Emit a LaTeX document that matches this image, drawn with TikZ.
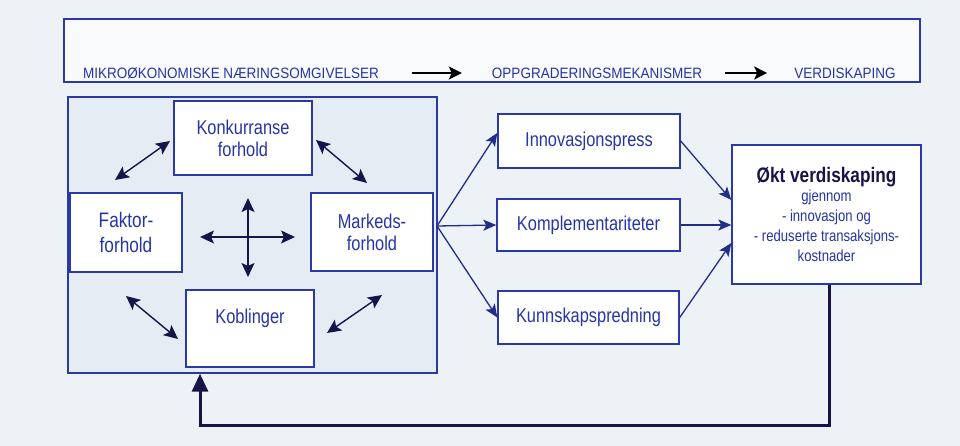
\documentclass[tikz,border=0pt]{standalone}
\usepackage{fontspec}
\setmainfont{Liberation Sans}[FakeStretch=0.82]
\newfontfamily\topfont{Liberation Sans}[FakeStretch=0.9]
\usetikzlibrary{arrows.meta}
\definecolor{bline}{HTML}{2A38A8}
\definecolor{btext}{HTML}{2535A5}
\definecolor{bg}{HTML}{EDF2F7}
\definecolor{inner}{HTML}{E6ECF3}
\definecolor{dark}{HTML}{15154A}
\begin{document}
\begin{tikzpicture}[x=1pt,y=-1pt,
  frame/.style={draw=bline, line width=1.4pt, inner sep=0pt},
  box/.style={draw=bline, line width=1.4pt, fill=white, text=btext, align=center, inner sep=0pt, font=\fontsize{20}{22}\selectfont},
  toptxt/.style={text=btext, inner sep=0pt, font=\topfont\fontsize{15}{18}\selectfont},
  dbl/.style={{Stealth[length=14pt,width=13pt,inset=3pt]}-{Stealth[length=14pt,width=13pt,inset=3pt]}, line width=1.4pt, draw=dark},
  fan/.style={-{Stealth[length=13pt,width=11pt,inset=3pt]}, line width=1.3pt, draw=bline!80!black},
  toparr/.style={-{Stealth[length=13pt,width=13pt,inset=3pt]}, line width=1.6pt, draw=black},
  fb/.style={-{Triangle[length=18pt,width=16pt]}, line width=3pt, draw=dark}]
\fill[bg] (0,0) rectangle (960,446);
\useasboundingbox (0,0) rectangle (960,446);
% top banner
\node[frame, fill=white!60!bg, minimum width=856pt, minimum height=63pt] (top) at (492,50.5) {};
\node[toptxt] (t1) at (231,73) {MIKROØKONOMISKE NÆRINGSOMGIVELSER};
\node[toptxt] (t2) at (597,73) {OPPGRADERINGSMEKANISMER};
\node[toptxt] (t3) at (845,73) {VERDISKAPING};
\draw[toparr] ([xshift=33pt]t1.east) -- ([xshift=-30pt]t2.west);
\draw[toparr] ([xshift=23pt]t2.east) -- ([xshift=-27pt]t3.west);
% left big box
\node[frame, fill=inner, minimum width=369pt, minimum height=276pt] (big) at (252.5,235) {};
\node[box, minimum width=138pt, minimum height=74pt] (konk) at (243,138) {Konkurranse\\forhold};
\node[box, minimum width=112pt, minimum height=79pt, font=\fontsize{21}{25}\selectfont] (fakt) at (126,232.5) {Faktor-\\forhold};
\node[box, minimum width=122pt, minimum height=78pt] (mark) at (372,232) {Markeds-\\forhold};
\node[box, minimum width=128pt, minimum height=77pt] (kobl) at (250,328.5) {};
\node[text=btext, inner sep=0pt, font=\fontsize{20}{22}\selectfont] (koblt) at ([yshift=10pt]kobl.center) {Koblinger};
% cross
\coordinate (cl) at (200,237);
\coordinate (cr) at (295,237);
\coordinate (ct) at (248,198);
\coordinate (cb) at (248,277);
\draw[dbl] (cl) -- (cr);
\draw[dbl] (ct) -- (cb);
% diagonal arrows
\coordinate (d1a) at (115,180); \coordinate (d1b) at (170,141);
\coordinate (d2a) at (316,140); \coordinate (d2b) at (367,183);
\coordinate (d3a) at (126,296); \coordinate (d3b) at (178,339);
\coordinate (d4a) at (327,333); \coordinate (d4b) at (382,295);
\draw[dbl] (d1a) -- (d1b);
\draw[dbl] (d2a) -- (d2b);
\draw[dbl] (d3a) -- (d3b);
\draw[dbl] (d4a) -- (d4b);
% mechanisms
\node[box, minimum width=182pt, minimum height=54pt] (innov) at (589,141) {Innovasjonspress};
\node[box, minimum width=183pt, minimum height=52pt] (kompl) at (588.5,225) {Komplementariteter};
\node[box, minimum width=181pt, minimum height=53pt] (kunn) at (588.5,317.5) {Kunnskapspredning};
\coordinate (fanpt) at (437,226);
\draw[fan] (fanpt) -- ([yshift=8pt]innov.west);
\draw[fan] (fanpt) -- (kompl.west);
\draw[fan] (fanpt) -- (kunn.west);
% result
\node[box, minimum width=189pt, minimum height=139pt, font=\fontsize{16}{20}\selectfont] (okt) at (826.5,214.5)
  {{\fontsize{21}{24}\selectfont\bfseries\color{dark}Økt verdiskaping}\\[-1pt]gjennom\\- innovasjon og\\- reduserte transaksjons-\\kostnader};
\draw[fan] (innov.east) -- ([yshift=14.5pt]okt.west);
\draw[fan] (kompl.east) -- ([yshift=-10.5pt]okt.west);
\draw[fan] (kunn.east) -- ([yshift=-28.5pt]okt.west);
% feedback
\draw[fb] ([xshift=2.5pt]okt.south) -- ++(0,141) -| ([xshift=-52.5pt]big.south);
\end{tikzpicture}
\end{document}
